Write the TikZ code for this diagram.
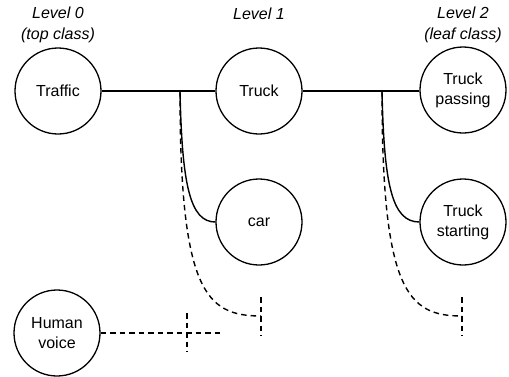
\documentclass[tikz,border=0pt]{standalone}
\usepackage{fontspec}
\setmainfont{Liberation Sans}
\begin{document}
\begin{tikzpicture}[x=1pt,y=-1pt,
  cls/.style={draw,circle,line width=1.3pt,minimum size=86pt,inner sep=0pt,align=center,font=\fontsize{16}{20}\selectfont},
  lvl/.style={align=center,font=\fontsize{16}{21}\selectfont\itshape},
  conn/.style={line width=1.4pt},
  dconn/.style={line width=1.4pt,dash pattern=on 5.5pt off 4pt}]
\useasboundingbox (0,0) rectangle (509,376);
\node[cls] (traffic) at (58,91) {Traffic};
\node[cls] (truck) at (259,91) {Truck};
\node[cls] (passing) at (463,90) {Truck\\passing};
\node[cls] (car) at (259,222) {car};
\node[cls] (starting) at (463,222) {Truck\\starting};
\node[cls] (human) at (57,333) {Human\\voice};
\node[lvl] (l0) at (58,25) {Level 0\\(top class)};
\node[lvl] (l1) at (259,14) {Level 1};
\node[lvl] (l2) at (463,25) {Level 2\\(leaf class)};
% junctions and free ends
\coordinate (j1) at (180,91);
\coordinate (j2) at (382,91);
\coordinate (e1) at (261,316);
\coordinate (e2) at (462,316);
\coordinate (t1a) at (261,297);
\coordinate (t1b) at (261,336);
\coordinate (t2a) at (462,297);
\coordinate (t2b) at (462,336);
\coordinate (hend) at (220,333);
\coordinate (t3a) at (187,313);
\coordinate (t3b) at (187,352);
\draw[conn] (traffic.east) -- (truck.west);
\draw[conn] (truck.east) -- (passing.west |- truck.east);
\draw[conn] (j1) .. controls (182,185) and (190,222) .. (car.west);
\draw[conn] (j2) .. controls (384,185) and (392,222) .. (starting.west);
\draw[dconn] (j1) .. controls (180,290) and (205,316) .. (e1);
\draw[dconn] (j2) .. controls (382,290) and (407,316) .. (e2);
\draw[dconn] (t1a) -- (t1b);
\draw[dconn] (t2a) -- (t2b);
\draw[dconn] (human.east) -- (hend);
\draw[dconn] (t3a) -- (t3b);
\end{tikzpicture}
\end{document}
